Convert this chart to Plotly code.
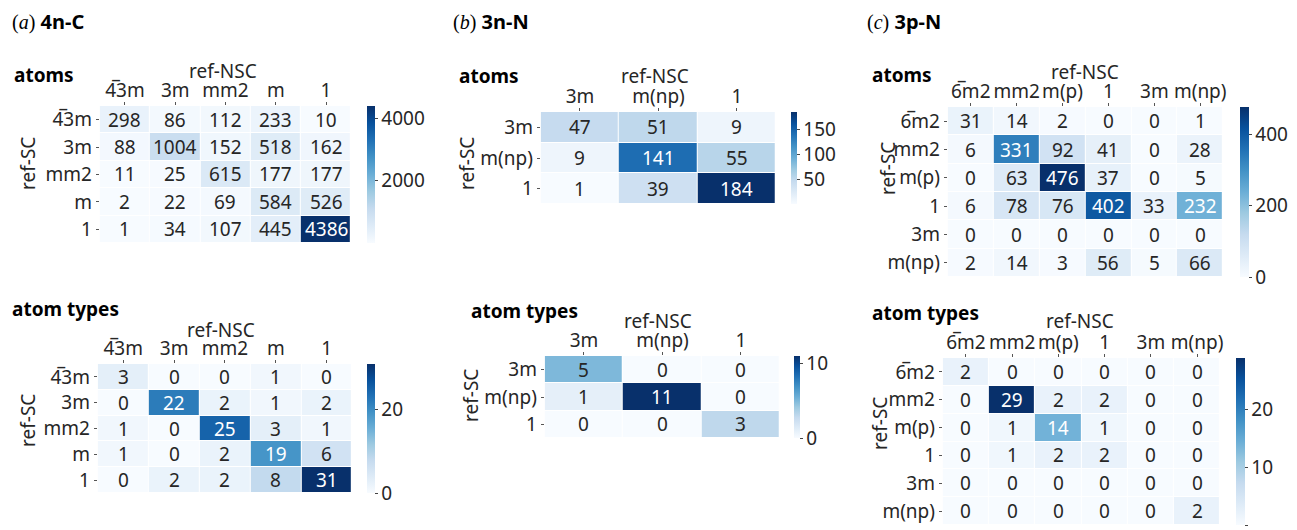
import plotly.graph_objects as go

W, H = 1297, 530
FONT = "Noto Sans"
TXT = "#262626"

# ---- data -------------------------------------------------------------
labels_a = ["4\u03053m", "3m", "mm2", "m", "1"]
labels_b = ["3m", "m(np)", "1"]
labels_c = ["6\u0305m2", "mm2", "m(p)", "1", "3m", "m(np)"]

atoms_a = [
    [298, 86, 112, 233, 10],
    [88, 1004, 152, 518, 162],
    [11, 25, 615, 177, 177],
    [2, 22, 69, 584, 526],
    [1, 34, 107, 445, 4386],
]
types_a = [
    [3, 0, 0, 1, 0],
    [0, 22, 2, 1, 2],
    [1, 0, 25, 3, 1],
    [1, 0, 2, 19, 6],
    [0, 2, 2, 8, 31],
]
atoms_b = [
    [47, 51, 9],
    [9, 141, 55],
    [1, 39, 184],
]
types_b = [
    [5, 0, 0],
    [1, 11, 0],
    [0, 0, 3],
]
atoms_c = [
    [31, 14, 2, 0, 0, 1],
    [6, 331, 92, 41, 0, 28],
    [0, 63, 476, 37, 0, 5],
    [6, 78, 76, 402, 33, 232],
    [0, 0, 0, 0, 0, 0],
    [2, 14, 3, 56, 5, 66],
]
types_c = [
    [2, 0, 0, 0, 0, 0],
    [0, 29, 2, 2, 0, 0],
    [0, 1, 14, 1, 0, 0],
    [0, 1, 2, 2, 0, 0],
    [0, 0, 0, 0, 0, 0],
    [0, 0, 0, 0, 0, 2],
]
cbar_ticks = {
    "a1": [2000, 4000], "a2": [0, 20],
    "b1": [50, 100, 150], "b2": [0, 10],
    "c1": [0, 200, 400], "c2": [0, 10, 20],
}

# ---- layout boxes (pixels: left, right, top, bottom) ------------------
panels = [
    dict(key="a1", z=atoms_a, lab=labels_a, box=(100, 352, 106, 243), cb=(368, 8)),
    dict(key="a2", z=types_a, lab=labels_a, box=(98, 353, 364, 493), cb=(368, 8)),
    dict(key="b1", z=atoms_b, lab=labels_b, box=(542, 778, 112, 204), cb=(793, 6)),
    dict(key="b2", z=types_b, lab=labels_b, box=(546, 782, 356, 438), cb=(796, 6)),
    dict(key="c1", z=atoms_c, lab=labels_c, box=(950, 1226, 107, 277), cb=(1243, 9)),
    dict(key="c2", z=types_c, lab=labels_c, box=(945, 1223, 358, 525), cb=(1239, 9)),
]

BLUES = ["#f7fbff", "#deebf7", "#c6dbef", "#9ecae1", "#6baed6",
         "#4292c6", "#2171b5", "#08519c", "#08306b"]
colorscale = [[i / 8, c] for i, c in enumerate(BLUES)]


def px(x):
    return x / W


def py(y):
    return 1 - y / H


def blues_rgb(t):
    t = min(max(t, 0.0), 1.0) * 8
    i = min(int(t), 7)
    f = t - i
    c0 = [int(BLUES[i][k:k + 2], 16) for k in (1, 3, 5)]
    c1 = [int(BLUES[i + 1][k:k + 2], 16) for k in (1, 3, 5)]
    return [a + (b - a) * f for a, b in zip(c0, c1)]


def luminance(rgb):
    out = []
    for v in rgb:
        v = v / 255
        out.append(v / 12.92 if v <= 0.03928 else ((v + 0.055) / 1.055) ** 2.4)
    return 0.2126 * out[0] + 0.7152 * out[1] + 0.0722 * out[2]


fig = go.Figure()
annotations = []

for i, p in enumerate(panels, start=1):
    z = p["z"]
    n = len(p["lab"])
    l, r, t, b = p["box"]
    zmin = min(min(row) for row in z)
    zmax = max(max(row) for row in z)
    xa = "x" if i == 1 else f"x{i}"
    ya = "y" if i == 1 else f"y{i}"
    cbx, cbw = p["cb"]
    fig.add_trace(go.Heatmap(
        z=z, x=list(range(n)), y=list(range(n)),
        xaxis=xa, yaxis=ya,
        zmin=zmin, zmax=zmax, colorscale=colorscale,
        xgap=1, ygap=1, hoverinfo="skip",
        colorbar=dict(
            x=px(cbx), xanchor="left", xpad=0,
            y=py(t), yanchor="top", ypad=0,
            len=b - t, lenmode="pixels",
            thickness=cbw, thicknessmode="pixels",
            outlinewidth=0,
            tickmode="array", tickvals=cbar_ticks[p["key"]],
            ticks="outside", ticklen=3, tickcolor="#444",
            tickfont=dict(family=FONT, size=19, color=TXT),
        ),
    ))
    axn = "" if i == 1 else str(i)
    fig.layout["xaxis" + axn] = dict(
        domain=[px(l), px(r)], anchor=ya, side="top",
        range=[-0.5, n - 0.5], tickmode="array",
        tickvals=list(range(n)), ticktext=p["lab"],
        ticks="outside", ticklen=3, tickcolor="#555",
        ticklabelstandoff=-3,
        showgrid=False, zeroline=False, showline=False,
        tickfont=dict(family=FONT, size=19, color=TXT),
    )
    fig.layout["yaxis" + axn] = dict(
        domain=[py(b), py(t)], anchor=xa,
        range=[n - 0.5, -0.5], tickmode="array",
        tickvals=list(range(n)), ticktext=p["lab"],
        ticks="outside", ticklen=3, tickcolor="#555",
        showgrid=False, zeroline=False, showline=False,
        tickfont=dict(family=FONT, size=19, color=TXT),
    )
    # cell values
    for ri, row in enumerate(z):
        for ci, v in enumerate(row):
            norm = (v - zmin) / (zmax - zmin)
            col = TXT if luminance(blues_rgb(norm)) > 0.408 else "white"
            annotations.append(dict(
                x=ci, y=ri, xref=xa, yref=ya, text=str(v), showarrow=False,
                font=dict(family=FONT, size=19, color=col),
            ))


def label(x, y, text, size=19, bold=False, xanchor="center", angle=0):
    annotations.append(dict(
        x=px(x), y=py(y), xref="paper", yref="paper",
        text=f"<b>{text}</b>" if bold else text,
        showarrow=False, xanchor=xanchor, yanchor="middle",
        textangle=angle,
        font=dict(family=FONT, size=size, color="black" if bold else TXT),
    ))


# panel headings
for x, letter, name in [(10, "a", "4n-C"), (452, "b", "3n-N"), (867, "c", "3p-N")]:
    annotations.append(dict(
        x=px(x), y=py(22), xref="paper", yref="paper", showarrow=False,
        xanchor="left", yanchor="middle",
        text=(f"<span style='font-family:Liberation Serif'>(<i>{letter}</i>)</span>"
              f" <b>{name}</b>"),
        font=dict(family=FONT, size=20, color="black"),
    ))

# sub-headings
for x, y, t in [(12, 75, "atoms"), (458, 76, "atoms"), (872, 75, "atoms"),
                (10, 309, "atom types"), (470, 311, "atom types"),
                (872, 313, "atom types")]:
    label(x, y, t, size=19, bold=True, xanchor="left")

# axis titles
for x, y in [(224, 71), (222, 330), (657, 76), (660, 321), (1088, 72), (1083, 321)]:
    label(x, y, "ref-NSC")
for x, y in [(28, 163), (28, 420), (468, 163), (472, 395), (890, 168), (882, 423)]:
    label(x, y, "ref-SC", angle=-90)

fig.update_layout(
    width=W, height=H,
    margin=dict(l=0, r=0, t=0, b=0),
    paper_bgcolor="white", plot_bgcolor="white",
    annotations=annotations,
    showlegend=False,
)

fig.write_html("out.html")
